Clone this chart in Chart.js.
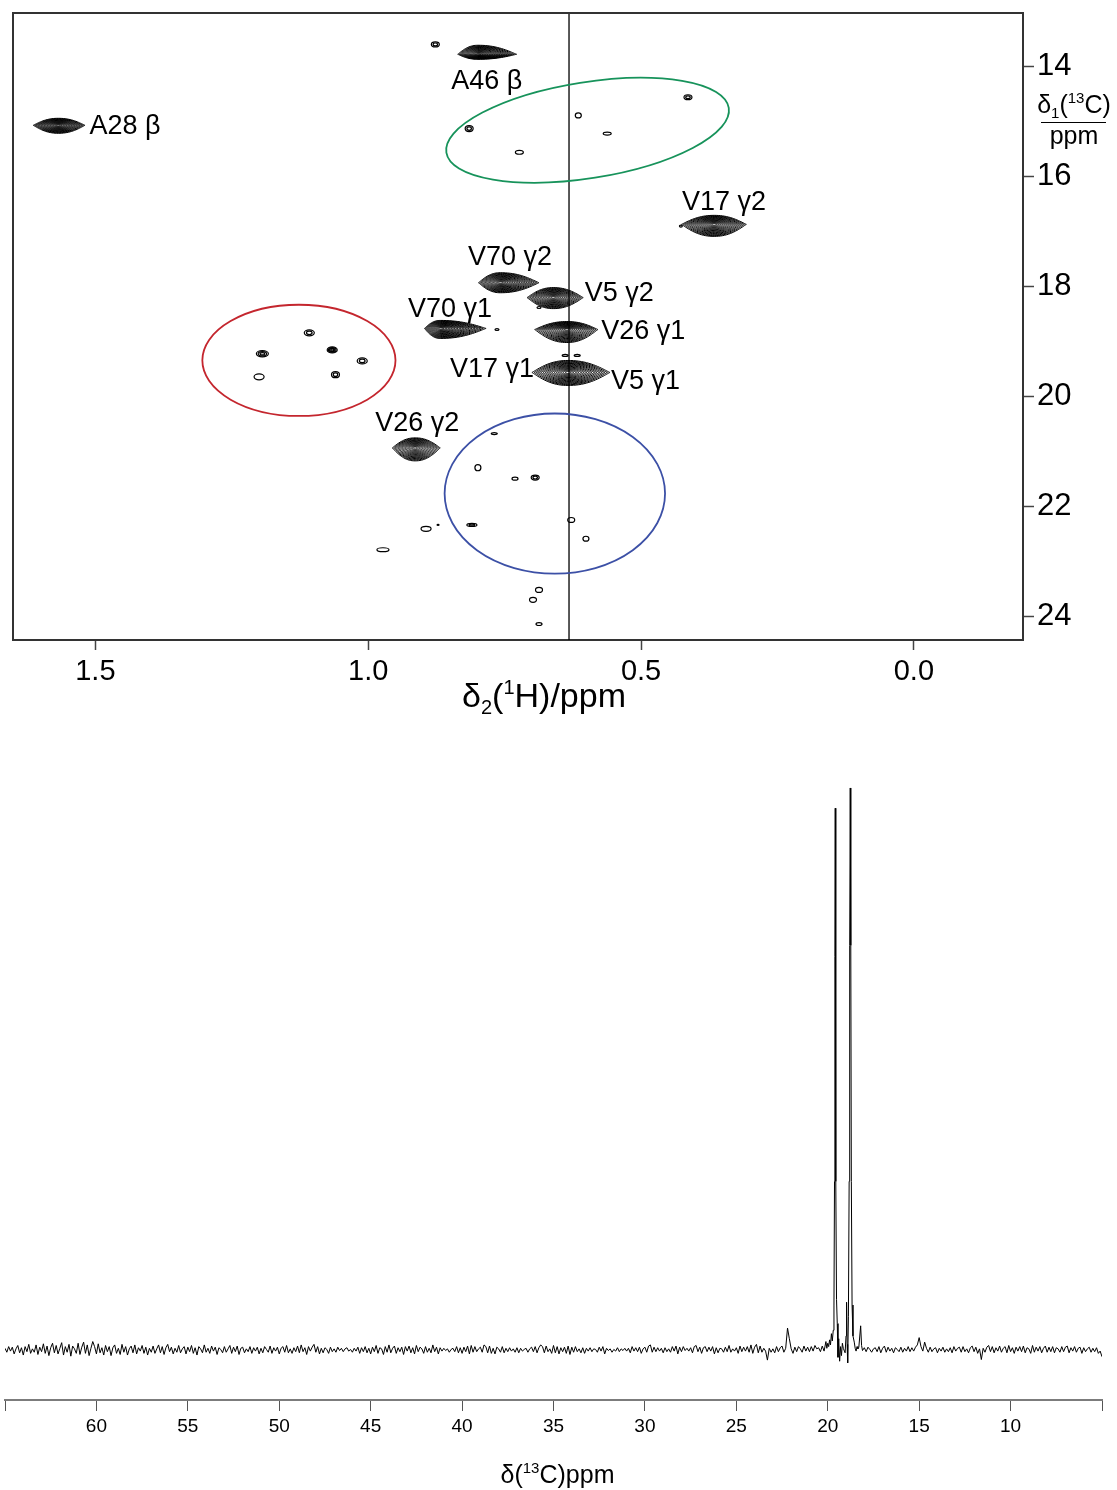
<!DOCTYPE html>
<html>
<head>
<meta charset="utf-8">
<script src="https://cdn.jsdelivr.net/npm/chart.js@4.4.1/dist/chart.umd.min.js"></script>
<style>
  html, body { margin: 0; padding: 0; background: #fff; }
  #wrap { position: relative; width: 1117px; height: 1490px; }
  #hsqc { position: absolute; left: 0; top: 0; }
  #cspec { position: absolute; left: 0; top: 730px; }
</style>
</head>
<body>
<div id="wrap">
  <canvas id="hsqc" width="1117" height="730"></canvas>
  <canvas id="cspec" width="1117" height="760"></canvas>
</div>
<script>
const FONT = "'Liberation Sans', Arial, Helvetica, sans-serif";
Chart.defaults.font.family = FONT;
Chart.defaults.color = '#000';

/* ---------- 2D 1H-13C methyl correlation map ---------- */
const hTicks = [1.5, 1.0, 0.5, 0.0];
const cTicks = [14, 16, 18, 20, 22, 24];
const H_MIN = -0.2, H_MAX = 1.651;
const C_MIN = 13.03, C_MAX = 24.42;

// assigned cross peaks (δH, δC) and the reach of the lowest contour in ppm
const peakNames = ['A28 β', 'A46 β', 'V17 γ2', 'V70 γ2', 'V5 γ2', 'V70 γ1', 'V26 γ1', 'V17 γ1 / V5 γ1', 'V26 γ2'];
const peakH = [1.568, 0.799, 0.366, 0.758, 0.661, 0.868, 0.636, 0.634, 0.914];
const peakC = [15.07, 13.78, 16.87, 17.93, 18.20, 18.76, 18.78, 19.56, 20.93];
const peakReachHiH = [0.046, 0.037, 0.060, 0.040, 0.048, 0.029, 0.059, 0.066, 0.042]; // toward larger δH
const peakReachLoH = [0.049, 0.071, 0.059, 0.071, 0.055, 0.084, 0.057, 0.077, 0.046]; // toward smaller δH
const peakReachLoC = [0.127, 0.164, 0.164, 0.182, 0.182, 0.145, 0.145, 0.218, 0.182]; // toward smaller δC
const peakReachHiC = [0.145, 0.091, 0.218, 0.182, 0.200, 0.182, 0.236, 0.236, 0.236]; // toward larger δC

// weak, unassigned cross peaks
const weakH = [0.877, 0.815, 0.723, 0.615, 0.562, 0.414,
               1.108, 1.194, 1.066, 1.011, 1.200, 1.060,
               0.769, 0.799, 0.731, 0.694, 0.810, 0.628, 0.601, 0.894, 0.973, 0.687, 0.698, 0.687,
               0.764, 0.639, 0.617, 0.687, 0.427, 0.872];
const weakC = [13.60, 15.13, 15.56, 14.89, 15.22, 14.56,
               18.84, 19.22, 19.15, 19.35, 19.64, 19.60,
               20.67, 21.29, 21.49, 21.47, 22.33, 22.24, 22.58, 22.40, 22.78, 23.51, 23.69, 24.13,
               18.78, 19.25, 19.25, 18.38, 16.90, 22.33];
const weakWH = [0.0073, 0.0073, 0.0073, 0.0055, 0.0073, 0.0073,
                0.0092, 0.0110, 0.0092, 0.0092, 0.0092, 0.0073,
                0.0055, 0.0055, 0.0055, 0.0073, 0.0092, 0.0064, 0.0055, 0.0092, 0.0110, 0.0064, 0.0064, 0.0055,
                0.0037, 0.0055, 0.0055, 0.0037, 0.0027, 0.0018];
const weakWC = [0.045, 0.055, 0.036, 0.045, 0.027, 0.045,
                0.055, 0.055, 0.055, 0.055, 0.055, 0.055,
                0.018, 0.055, 0.027, 0.045, 0.027, 0.045, 0.045, 0.045, 0.036, 0.045, 0.045, 0.027,
                0.018, 0.018, 0.018, 0.018, 0.018, 0.009];
const weakRings = [2, 2, 1, 1, 1, 2,
                   2, 3, 4, 2, 1, 2,
                   1, 1, 1, 2, 2, 1, 1, 1, 1, 1, 1, 1,
                   1, 1, 1, 1, 1, 1];

// assignment labels, anchored at their left edge
const labelText = ['A28 β', 'A46 β', 'V17 γ2', 'V70 γ2', 'V5 γ2', 'V70 γ1', 'V26 γ1', 'V17 γ1', 'V5 γ1', 'V26 γ2'];
const labelH = [1.511, 0.848, 0.425, 0.817, 0.603, 0.927, 0.573, 0.850, 0.555, 0.987];
const labelC = [15.09, 14.27, 16.47, 17.47, 18.13, 18.42, 18.82, 19.51, 19.73, 20.49];

// highlighted regions (ellipses)
const regionH = [0.598, 1.127, 0.658];
const regionC = [15.16, 19.34, 21.76];
const regionRH = [0.262, 0.177, 0.202];
const regionRC = [0.873, 1.010, 1.455];
const regionTiltDeg = [-9, 0, 0];
const regionColor = ['#17935b', '#c4262e', '#3c50a6'];

// 1H trace position
const cursorH = 0.632;

/* ---------- 1D 13C spectrum ---------- */
const c1dTicks = [65, 60, 55, 50, 45, 40, 35, 30, 25, 20, 15, 10, 5];
const specStep = 0.1;
const specLeftStart = 65.0;   // 65.0 ... 20.6 ppm
const specLeft = [
  0.3,-0.4,0.6,-0.2,0.5,-0.7,0.2,0.8,-0.5,0.4,-0.9,0.6,-0.3,1.0,-0.6,0.2,-0.4,0.9,-0.8,0.5,
  -0.3,1.1,-0.6,0.7,-1.0,0.4,1.2,-0.5,0.8,-0.7,0.3,1.3,-0.9,0.6,-0.4,1.0,-1.1,0.7,0.2,-0.6,
  1.2,-0.8,0.5,1.4,-0.6,0.9,-1.0,0.3,1.5,0.6,-0.7,1.1,-0.5,0.4,-0.9,0.8,-0.3,0.6,-1.0,0.4,
  0.9,-0.6,0.3,-0.8,1.0,-0.4,0.6,-0.9,0.2,0.7,-0.5,0.9,-0.7,0.4,-0.2,0.8,-0.6,0.5,-0.9,0.3,
  -0.4,0.7,-0.6,0.2,0.9,-0.5,0.6,-0.8,0.4,1.0,-0.3,0.5,-0.7,0.3,-0.4,0.8,-0.5,0.2,0.6,-0.7,
  0.5,-0.3,0.8,-0.6,0.4,-0.9,0.6,0.2,-0.5,0.9,-0.4,0.3,-0.6,0.7,-0.2,0.5,-0.8,0.4,0.1,-0.5,
  0.6,-0.4,0.2,0.8,-0.6,0.5,-0.3,0.7,-0.8,0.3,0.5,-0.5,0.2,-0.3,0.6,-0.6,0.4,-0.2,0.5,-0.7,
  0.3,-0.5,0.6,0.1,-0.4,0.7,-0.6,0.4,-0.2,0.5,-0.7,0.3,0.6,-0.4,0.8,-0.5,0.2,-0.6,0.4,-0.3,
  0.7,-0.5,0.9,-0.3,0.4,-0.8,0.6,-0.2,0.5,1.0,-0.4,0.6,-0.7,0.3,-0.5,0.4,0.1,-0.6,0.5,-0.3,
  0.2,-0.4,0.5,-0.1,0.3,-0.3,0.2,0.4,-0.2,0.1,-0.4,0.3,-0.2,0.5,-0.6,0.4,-0.3,0.6,-0.5,0.3,
  -0.7,0.5,-0.3,0.8,-0.6,0.4,0.2,-0.8,0.6,-0.4,0.9,-0.5,0.3,0.7,-0.6,0.4,-0.3,0.5,-0.8,0.6,
  -0.2,0.7,-0.5,0.4,-0.7,0.8,-0.3,0.5,0.2,-0.6,0.6,-0.4,0.3,-0.5,0.9,-0.3,0.5,-0.7,0.4,-0.2,
  0.3,-0.1,0.2,-0.4,0.1,0.3,-0.3,0.6,-0.5,0.4,-0.6,0.5,-0.3,0.7,-0.7,0.8,-0.4,0.6,-0.3,0.2,
  0.5,-0.4,0.9,0.6,-0.5,0.7,-0.6,0.3,-0.7,0.5,0.2,-0.4,0.6,-0.5,0.3,-0.3,0.4,-0.2,0.2,-0.4,
  0.4,-0.5,0.3,-0.2,0.1,0.3,-0.4,0.2,0.5,-0.3,0.6,-0.5,0.4,0.9,0.6,-0.5,0.7,-0.3,0.2,-0.6,
  0.8,-0.5,0.6,-0.7,0.4,-0.3,0.5,-0.6,0.7,-0.8,0.5,-0.4,0.6,-0.3,0.2,-0.5,0.4,-0.6,0.3,-0.2,
  0.4,-0.3,0.2,0.1,-0.4,0.5,-0.2,0.6,-0.7,0.3,-0.1,0.2,-0.4,0.1,-0.2,0.4,-0.3,0.2,-0.1,0.3,
  -0.2,0.3,-0.5,0.6,-0.2,0.4,-0.3,0.5,-0.6,0.2,0.5,-0.4,0.7,0.9,-0.4,0.5,-0.3,0.4,-0.2,0.3,
  -0.5,0.4,-0.3,0.2,-0.4,0.6,-0.2,0.7,-0.7,0.5,-0.3,0.6,-0.1,0.3,-0.2,0.4,-0.5,0.6,0.8,-0.3,
  0.5,-0.6,0.4,0.6,-0.3,0.5,-0.2,0.6,-0.7,0.4,-0.5,0.3,0.2,-0.4,0.5,-0.3,0.8,-0.4,0.2,-0.2,
  0.4,-0.6,0.7,-0.3,0.5,-0.2,0.6,-0.4,0.9,-0.6,0.5,1.0,-0.5,0.7,-0.4,0.3,-0.2,-1.8,0.3,-0.4,
  0.2,-0.5,0.6,-0.3,0.4,0.7,-0.4,0.3,3.9,2.0,0.2,-0.6,0.5,-0.3,0.6,0.2,-0.4,0.7,-0.2,0.5,
  -0.3,0.6,-0.2,0.8,0.2
];
// methyl region, sampled finely around the two strong lines
const methylPpm = [20.50, 20.40, 20.30, 20.20, 20.10, 20.05, 20.00, 19.95, 19.90, 19.85,
                   19.80, 19.75, 19.70, 19.66, 19.63, 19.61, 19.59, 19.57, 19.55, 19.52,
                   19.48, 19.44, 19.40, 19.35, 19.30, 19.25, 19.20, 19.15, 19.05, 19.00,
                   18.97, 18.94, 18.91, 18.87, 18.83, 18.80, 18.77, 18.74, 18.71, 18.67,
                   18.62, 18.55, 18.50, 18.45, 18.40, 18.35, 18.30, 18.20, 18.15, 18.10,
                   18.00, 17.90, 17.80, 17.70, 17.60, 17.50];
const methylInt = [0.4, -0.3, 0.7, -0.2, 1.5, 0.3, 1.2, 0.6, 1.8, 0.9,
                   2.9, 1.6, 3.5, 8.0, 30.0, 70.0, 96.4, 70.0, 30.0, 9.0,
                   4.7, -1.3, 2.0, -2.0, 0.6, -1.0, 1.2, 0.3, -0.5, 2.5,
                   8.5, 1.0, -2.3, 6.0, 30.0, 72.0, 100.0, 72.0, 30.0, 8.0,
                   2.5, 1.4, 0.3, -0.2, 0.6, 0.2, 0.5, 4.3, 0.8, -0.1,
                   0.4, -0.3, 0.5, 0.1, -0.4, 0.2];
const specRightStart = 17.4;  // 17.4 ... 5.0 ppm
const specRight = [
  0.4,-0.3,0.6,-0.5,0.3,0.7,-0.4,0.5,-0.2,0.3,-0.5,0.4,0.1,-0.3,0.5,-0.4,0.3,-0.2,0.6,-0.3,
  0.4,-0.2,0.5,0.9,2.2,0.6,-0.2,1.4,0.3,-0.4,0.5,-0.3,0.2,0.4,-0.5,0.3,-0.2,0.5,-0.4,0.2,
  -0.3,0.4,-0.5,0.6,-0.2,0.3,0.5,-0.4,0.6,-0.3,0.2,-0.5,0.4,0.7,-0.3,0.5,-0.6,0.2,-1.7,0.3,
  -0.4,0.5,0.8,-0.3,0.6,-0.5,0.4,-0.2,0.7,-0.4,0.3,0.6,-0.5,0.8,-0.3,0.4,-0.6,0.5,-0.2,0.6,
  -0.3,0.7,-0.5,0.4,0.2,-0.6,0.8,-0.4,0.5,-0.2,0.6,-0.5,0.3,0.7,-0.4,0.5,-0.3,0.6,-0.5,0.4,
  0.2,-0.4,0.6,-0.3,0.5,0.7,-0.5,0.4,-0.2,0.6,-0.4,0.3,0.5,-0.6,0.4,-0.3,0.2,0.5,-0.4,0.3,
  -0.3,0.4,-0.6,-0.2,-1.2
];

/* ---------- helpers ---------- */
function richText(ctx, parts, x, y, align) {
  let w = 0;
  parts.forEach(p => { ctx.font = p[1] + 'px ' + FONT; w += ctx.measureText(p[0]).width; });
  let cx = align === 'center' ? x - w / 2 : x;
  ctx.textAlign = 'left';
  ctx.textBaseline = 'alphabetic';
  parts.forEach(p => {
    ctx.font = p[1] + 'px ' + FONT;
    ctx.fillText(p[0], cx, y + p[2]);
    cx += ctx.measureText(p[0]).width;
  });
  return w;
}

// nested lens-shaped contours: outline half-height at normalised offset x
const NLEV = 16, NSEG = 48;
function lensHalf(x) { return Math.pow(1 - Math.pow(Math.abs(x), 2.2), 1.1); }

const mapPlugin = {
  id: 'mapPlugin',
  afterDatasetsDraw(chart) {
    const { ctx, chartArea: a } = chart;
    const xs = chart.scales.x, ys = chart.scales.y;
    ctx.save();

    // highlighted regions
    regionH.forEach((h, i) => {
      const cx = xs.getPixelForValue(h), cy = ys.getPixelForValue(regionC[i]);
      const rx = Math.abs(xs.getPixelForValue(h - regionRH[i]) - cx);
      const ry = Math.abs(ys.getPixelForValue(regionC[i] + regionRC[i]) - cy);
      ctx.beginPath();
      ctx.ellipse(cx, cy, rx, ry, regionTiltDeg[i] * Math.PI / 180, 0, Math.PI * 2);
      ctx.strokeStyle = regionColor[i];
      ctx.lineWidth = 1.8;
      ctx.stroke();
    });

    // strong cross peaks
    ctx.strokeStyle = '#000';
    ctx.lineWidth = 1.0;
    chart.data.datasets[1].data.forEach(p => {
      const cx = xs.getPixelForValue(p.x), cy = ys.getPixelForValue(p.y);
      const eL = Math.abs(xs.getPixelForValue(p.x + p.hiH) - cx);
      const eR = Math.abs(xs.getPixelForValue(p.x - p.loH) - cx);
      const eU = Math.abs(ys.getPixelForValue(p.y - p.loC) - cy);
      const eD = Math.abs(ys.getPixelForValue(p.y + p.hiC) - cy);
      for (let k = 0; k < NLEV; k++) {
        const s = 1 - 0.92 * k / (NLEV - 1);
        ctx.beginPath();
        for (let j = 0; j <= NSEG; j++) {
          const x = -Math.cos(Math.PI * j / NSEG);
          const px = cx + (x < 0 ? x * eL : x * eR) * s;
          const py = cy - lensHalf(x) * eU * s;
          if (j === 0) ctx.moveTo(px, py); else ctx.lineTo(px, py);
        }
        for (let j = NSEG; j >= 0; j--) {
          const x = -Math.cos(Math.PI * j / NSEG);
          const px = cx + (x < 0 ? x * eL : x * eR) * s;
          const py = cy + lensHalf(x) * eD * s;
          ctx.lineTo(px, py);
        }
        ctx.closePath();
        ctx.stroke();
      }
    });

    // weak cross peaks
    ctx.lineWidth = 1.2;
    chart.data.datasets[2].data.forEach(p => {
      const cx = xs.getPixelForValue(p.x), cy = ys.getPixelForValue(p.y);
      const rx = Math.abs(xs.getPixelForValue(p.x - p.wH) - cx);
      const ry = Math.abs(ys.getPixelForValue(p.y + p.wC) - cy);
      for (let k = 0; k < p.rings; k++) {
        const f = 1 - k / (p.rings + 0.3);
        ctx.beginPath();
        ctx.ellipse(cx, cy, Math.max(rx * f, 0.6), Math.max(ry * f, 0.5), 0, 0, Math.PI * 2);
        ctx.stroke();
      }
    });

    // assignment labels
    ctx.fillStyle = '#000';
    ctx.font = '27px ' + FONT;
    ctx.textAlign = 'left';
    ctx.textBaseline = 'middle';
    labelText.forEach((t, i) => {
      ctx.fillText(t, xs.getPixelForValue(labelH[i]), ys.getPixelForValue(labelC[i]));
    });

    // frame top and left
    ctx.strokeStyle = '#333';
    ctx.lineWidth = 2;
    ctx.beginPath();
    ctx.moveTo(a.left, a.bottom);
    ctx.lineTo(a.left, a.top);
    ctx.lineTo(a.right, a.top);
    ctx.stroke();

    // axis titles
    ctx.fillStyle = '#000';
    richText(ctx, [['δ', 34, 0], ['2', 20, 7], ['(', 34, 0], ['1', 20, -13], ['H)/ppm', 34, 0]],
             (a.left + a.right) / 2 + 26, 707, 'center');
    const tx = a.right + 51;
    richText(ctx, [['δ', 25, 0], ['1', 15, 5], ['(', 25, 0], ['13', 15, -10], ['C)', 25, 0]], tx, 113, 'center');
    ctx.strokeStyle = '#000';
    ctx.lineWidth = 1.2;
    ctx.beginPath();
    ctx.moveTo(tx - 33, 122.5);
    ctx.lineTo(tx + 32, 122.5);
    ctx.stroke();
    richText(ctx, [['ppm', 25, 0]], tx, 144, 'center');

    ctx.restore();
  }
};

new Chart(document.getElementById('hsqc'), {
  type: 'scatter',
  data: {
    datasets: [
      {
        label: '1H trace',
        data: [{ x: cursorH, y: C_MIN }, { x: cursorH, y: C_MAX }],
        showLine: true, borderColor: '#000', borderWidth: 1.3, pointRadius: 0
      },
      {
        label: 'assigned',
        data: peakH.map((h, i) => ({
          x: h, y: peakC[i], name: peakNames[i],
          hiH: peakReachHiH[i], loH: peakReachLoH[i], loC: peakReachLoC[i], hiC: peakReachHiC[i]
        })),
        pointRadius: 0
      },
      {
        label: 'weak',
        data: weakH.map((h, i) => ({ x: h, y: weakC[i], wH: weakWH[i], wC: weakWC[i], rings: weakRings[i] })),
        pointRadius: 0
      }
    ]
  },
  options: {
    responsive: false,
    animation: false,
    devicePixelRatio: 1,
    events: [],
    layout: { padding: { left: 13, top: 13, right: 0, bottom: 0 } },
    plugins: { legend: { display: false }, tooltip: { enabled: false } },
    scales: {
      x: {
        type: 'linear', reverse: true, min: H_MIN, max: H_MAX,
        afterBuildTicks: s => { s.ticks = hTicks.map(v => ({ value: v })); },
        afterFit: s => { s.height = 90; s.paddingLeft = 0; s.paddingRight = 0; },
        ticks: {
          font: { size: 29 }, color: '#000', padding: 5, maxRotation: 0, autoSkip: false,
          callback: v => Number(v).toFixed(1)
        },
        grid: { drawOnChartArea: false, drawTicks: true, tickLength: 10, tickColor: '#444', tickWidth: 1.5 },
        border: { display: true, color: '#333', width: 2 }
      },
      y: {
        type: 'linear', position: 'right', reverse: true, min: C_MIN, max: C_MAX,
        afterBuildTicks: s => { s.ticks = cTicks.map(v => ({ value: v })); },
        afterFit: s => { s.width = 94; s.paddingTop = 0; s.paddingBottom = 0; },
        ticks: { font: { size: 31 }, color: '#000', padding: 3, autoSkip: false },
        grid: { drawOnChartArea: false, drawTicks: true, tickLength: 11, tickColor: '#444', tickWidth: 1.5 },
        border: { display: true, color: '#333', width: 2 }
      }
    }
  },
  plugins: [mapPlugin]
});

/* ---------- 1D spectrum ---------- */
const specPoints = [];
specLeft.forEach((v, i) => specPoints.push({ x: +(specLeftStart - i * specStep).toFixed(2), y: v }));
methylPpm.forEach((p, i) => specPoints.push({ x: p, y: methylInt[i] }));
specRight.forEach((v, i) => specPoints.push({ x: +(specRightStart - i * specStep).toFixed(2), y: v }));

const specTitle = {
  id: 'specTitle',
  afterDraw(chart) {
    const { ctx, chartArea: a } = chart;
    ctx.save();
    ctx.fillStyle = '#000';
    richText(ctx, [['δ(', 25, 0], ['13', 15, -10], ['C)ppm', 25, 0]], (a.left + a.right) / 2 + 4, 753, 'center');
    ctx.restore();
  }
};

new Chart(document.getElementById('cspec'), {
  type: 'line',
  data: {
    datasets: [{
      label: '13C',
      data: specPoints,
      borderColor: '#000', borderWidth: 1, pointRadius: 0, tension: 0, fill: false
    }]
  },
  options: {
    responsive: false,
    animation: false,
    devicePixelRatio: 1,
    events: [],
    layout: { padding: { left: 5, right: 15, top: 40, bottom: 0 } },
    plugins: { legend: { display: false }, tooltip: { enabled: false } },
    scales: {
      x: {
        type: 'linear', reverse: true, min: 5, max: 65,
        afterBuildTicks: s => { s.ticks = c1dTicks.map(v => ({ value: v })); },
        afterFit: s => { s.height = 90; },
        ticks: {
          font: { size: 19 }, color: '#000', padding: 4, maxRotation: 0, autoSkip: false,
          callback: v => (v === 65 || v === 5) ? '' : String(v)
        },
        grid: { drawOnChartArea: false, drawTicks: true, tickLength: 11, tickColor: '#555', tickWidth: 1 },
        border: { display: true, color: '#7c7c7c', width: 2 }
      },
      y: { type: 'linear', display: false, min: -8.9, max: 103.2 }
    }
  },
  plugins: [specTitle]
});
</script>
</body>
</html>
